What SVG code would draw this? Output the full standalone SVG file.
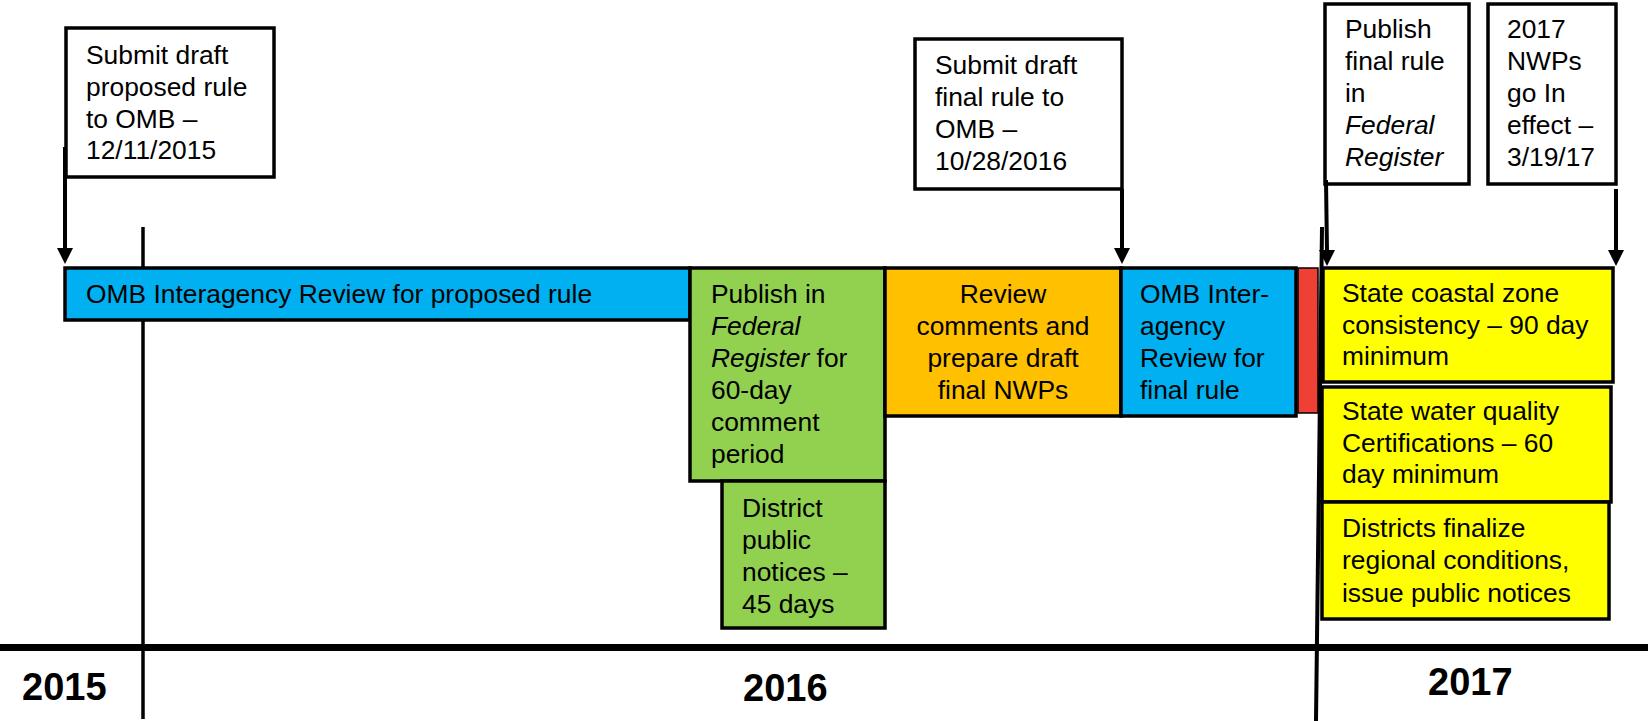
<svg xmlns="http://www.w3.org/2000/svg" width="1648" height="721" viewBox="0 0 1648 721">
<style>
.t{font-family:"Liberation Sans",Arial,sans-serif;font-size:26.4px;fill:#000}
.y{font-family:"Liberation Sans",Arial,sans-serif;font-size:38px;font-weight:bold;fill:#000}
.bx{stroke:#000;stroke-width:3.5}
.cn{stroke:#000;stroke-width:4;fill:none}
</style>
<rect width="1648" height="721" fill="#fff"/>
<g id="axis">
<line x1="143" y1="227" x2="143" y2="719" stroke="#000" stroke-width="3.5"/>
<line x1="1322" y1="227" x2="1316" y2="721" stroke="#000" stroke-width="4"/>
<line x1="0" y1="647.5" x2="1648" y2="647.5" stroke="#000" stroke-width="7"/>
<text class="y" x="22" y="700">2015</text>
<text class="y" x="743" y="701">2016</text>
<text class="y" x="1428" y="695">2017</text>
</g>
<g id="omb-proposed">
<rect class="bx" x="65" y="268" width="625" height="52" fill="#00B0F0"/>
<text class="t" x="86" y="303">OMB Interagency Review for proposed rule</text>
</g>
<g id="publish-fr">
<rect class="bx" x="690" y="268" width="195" height="213" fill="#92D050"/>
<text class="t" x="711" y="303">Publish in</text>
<text class="t" x="711" y="335" font-style="italic">Federal</text>
<text class="t" x="711" y="367"><tspan font-style="italic">Register</tspan> for</text>
<text class="t" x="711" y="399">60-day</text>
<text class="t" x="711" y="431">comment</text>
<text class="t" x="711" y="463">period</text>
</g>
<g id="district-notices">
<rect class="bx" x="722" y="481" width="163" height="147" fill="#92D050"/>
<text class="t" x="742" y="517">District</text>
<text class="t" x="742" y="549">public</text>
<text class="t" x="742" y="581">notices –</text>
<text class="t" x="742" y="613">45 days</text>
</g>
<g id="review-comments">
<rect class="bx" x="885" y="268" width="236" height="148" fill="#FFC000"/>
<text class="t" x="1003" y="303" text-anchor="middle">Review</text>
<text class="t" x="1003" y="335" text-anchor="middle">comments and</text>
<text class="t" x="1003" y="367" text-anchor="middle">prepare draft</text>
<text class="t" x="1003" y="399" text-anchor="middle">final NWPs</text>
</g>
<g id="omb-final">
<rect class="bx" x="1121" y="268" width="175" height="148" fill="#00B0F0"/>
<text class="t" x="1140" y="303">OMB Inter-</text>
<text class="t" x="1140" y="335">agency</text>
<text class="t" x="1140" y="367">Review for</text>
<text class="t" x="1140" y="399">final rule</text>
</g>
<g id="red-bar">
<rect x="1298" y="268" width="20" height="145" fill="#EE4035" stroke="#000" stroke-width="1.5"/>
</g>
<g id="coastal">
<rect class="bx" x="1323" y="268" width="290" height="114" fill="#FFFF00"/>
<text class="t" x="1342" y="302">State coastal zone</text>
<text class="t" x="1342" y="334">consistency – 90 day</text>
<text class="t" x="1342" y="365">minimum</text>
</g>
<g id="water-quality">
<rect class="bx" x="1322" y="387" width="289" height="115" fill="#FFFF00"/>
<text class="t" x="1342" y="420">State water quality</text>
<text class="t" x="1342" y="452">Certifications – 60</text>
<text class="t" x="1342" y="483">day minimum</text>
</g>
<g id="regional">
<rect class="bx" x="1322" y="502" width="287" height="117" fill="#FFFF00"/>
<text class="t" x="1342" y="537">Districts finalize</text>
<text class="t" x="1342" y="569">regional conditions,</text>
<text class="t" x="1342" y="602">issue public notices</text>
</g>
<g id="submit-proposed">
<rect class="bx" x="66" y="28" width="208" height="149" fill="#fff"/>
<text class="t" x="86" y="64">Submit draft</text>
<text class="t" x="86" y="96">proposed rule</text>
<text class="t" x="86" y="128">to OMB –</text>
<text class="t" x="86" y="159">12/11/2015</text>
</g>
<g id="submit-final">
<rect class="bx" x="915" y="39" width="207" height="150" fill="#fff"/>
<text class="t" x="935" y="74">Submit draft</text>
<text class="t" x="935" y="106">final rule to</text>
<text class="t" x="935" y="138">OMB –</text>
<text class="t" x="935" y="170">10/28/2016</text>
</g>
<g id="publish-final">
<rect class="bx" x="1325" y="4" width="144" height="180" fill="#fff"/>
<text class="t" x="1345" y="38">Publish</text>
<text class="t" x="1345" y="70">final rule</text>
<text class="t" x="1345" y="102">in</text>
<text class="t" x="1345" y="134" font-style="italic">Federal</text>
<text class="t" x="1345" y="166" font-style="italic">Register</text>
</g>
<g id="in-effect">
<rect class="bx" x="1488" y="4" width="128" height="180" fill="#fff"/>
<text class="t" x="1507" y="38">2017</text>
<text class="t" x="1507" y="70">NWPs</text>
<text class="t" x="1507" y="102">go In</text>
<text class="t" x="1507" y="134">effect –</text>
<text class="t" x="1507" y="166">3/19/17</text>
</g>
<g id="connectors">
<line class="cn" x1="65" y1="147" x2="65" y2="250"/>
<polygon points="57,248 73,248 65,264"/>
<line class="cn" x1="1122" y1="189" x2="1122" y2="250"/>
<polygon points="1114,248 1130,248 1122,264"/>
<line class="cn" x1="1326" y1="180" x2="1327" y2="252"/>
<polygon points="1319,250 1335,250 1327,266"/>
<line class="cn" x1="1616" y1="189" x2="1616" y2="252"/>
<polygon points="1608,250 1624,250 1616,266"/>
</g>
</svg>
